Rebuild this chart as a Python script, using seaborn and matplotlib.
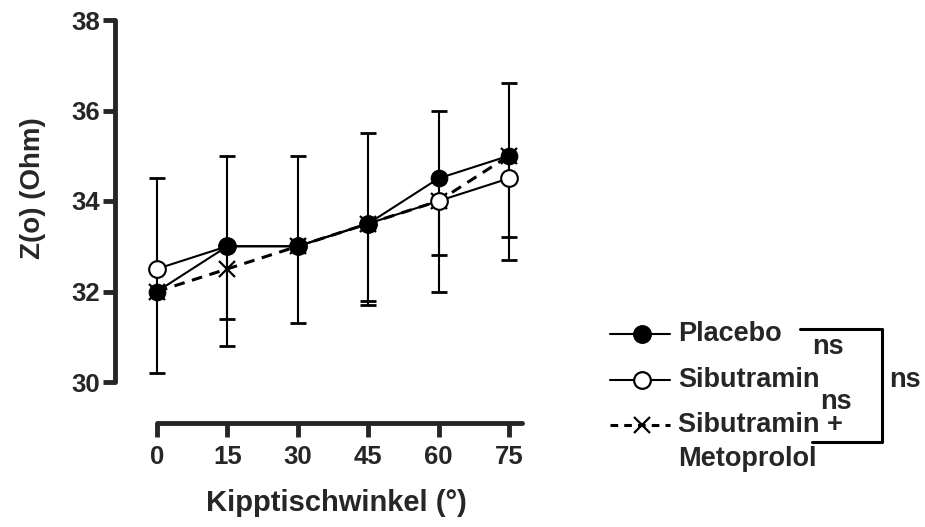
import numpy as np
import pandas as pd
import matplotlib
matplotlib.use("Agg")
import matplotlib.pyplot as plt
import seaborn as sns
from matplotlib.lines import Line2D

angles = [0, 15, 30, 45, 60, 75]
placebo = [32.0, 33.0, 33.0, 33.5, 34.5, 35.0]
sibutramin = [32.5, 33.0, 33.0, 33.5, 34.0, 34.5]
sib_meto = [32.0, 32.5, 33.0, 33.5, 34.0, 35.0]

# error bar ends (NaN = not drawn)
placebo_upper = [34.5, 35.0, 35.0, 35.5, 36.0, 36.6]
placebo_lower = [30.2, 31.4, 31.3, 31.8, 32.8, 33.2]
sib_lower = [np.nan, 30.8, np.nan, 31.7, 32.0, 32.7]

yticks = [30, 32, 34, 36, 38]
xlabel = "Kipptischwinkel (°)"
ylabel = "Z(o) (Ohm)"
labels = ["Placebo", "Sibutramin", "Sibutramin +", "Metoprolol"]

sns.set_style("ticks")
plt.rcParams['font.family'] = ['Liberation Sans', 'DejaVu Sans']
plt.rcParams['font.weight'] = 'bold'

W, H = 925, 527
fig = plt.figure(figsize=(W / 100, H / 100), dpi=100)
ax = fig.add_axes([115 / W, 1 - 382 / H, (522 - 115) / W, (382 - 20) / H])

px_per_unit = (509 - 157) / 75
xmin = 0 - (157 - 115) / px_per_unit
xmax = 75 + (522 - 509) / px_per_unit

df = pd.DataFrame({
    "angle": angles * 3,
    "z": placebo + sibutramin + sib_meto,
    "group": ["Placebo"] * 6 + ["Sibutramin"] * 6 + ["SibMeto"] * 6,
})

lw = 1.5


def draw_err(xs, mids, ends):
    for x, m, e in zip(xs, mids, ends):
        if np.isnan(e):
            continue
        ax.plot([x, x], [m, e], color='black', lw=lw, zorder=2, solid_capstyle='butt')
        ax.plot([x], [e], marker='_', markersize=12, markeredgewidth=2.0,
                color='black', zorder=2)


draw_err(angles, placebo, placebo_upper)
draw_err(angles, placebo, placebo_lower)
draw_err(angles, sibutramin, sib_lower)

sns.lineplot(data=df[df.group == "SibMeto"], x="angle", y="z", ax=ax, color='black',
             lw=2.2, linestyle=(0, (3.5, 2.5)), marker='x', markersize=11,
             markeredgewidth=1.6, markeredgecolor='black', zorder=3, legend=False)
sns.lineplot(data=df[df.group == "Sibutramin"], x="angle", y="z", ax=ax, color='black',
             lw=lw, marker='o', markersize=12, markerfacecolor='white',
             markeredgecolor='black', markeredgewidth=1.5, zorder=4, legend=False)
sns.lineplot(data=df[df.group == "Placebo"], x="angle", y="z", ax=ax, color='black',
             lw=lw, marker='o', markersize=12, markerfacecolor='black',
             markeredgecolor='black', zorder=5, legend=False)

for s in ['top', 'right']:
    ax.spines[s].set_visible(False)
ax.spines['left'].set_linewidth(3.5)
ax.spines['bottom'].set_linewidth(3.5)
ax.spines['bottom'].set_position(('outward', 41 * 0.72))
ax.spines['left'].set_capstyle('round')
ax.spines['bottom'].set_capstyle('round')

ax.set_xlim(xmin, xmax)
ax.set_ylim(30, 38)
ax.spines['bottom'].set_bounds(0, xmax)
ax.spines['left'].set_bounds(30, 38)
ax.set_xticks(angles)
ax.set_yticks(yticks)
ax.set_xticklabels([str(a) for a in angles], fontsize=18.5, fontweight='bold')
ax.set_yticklabels([str(t) for t in yticks], fontsize=18.5, fontweight='bold')
ax.set_xlabel(xlabel, fontsize=21, fontweight='bold')
ax.set_ylabel(ylabel, fontsize=20, fontweight='bold')
ax.xaxis.set_label_coords(336 / W, 1 - 489 / H, transform=fig.transFigure)
ax.yaxis.set_label_coords(46 / W, 1 - 188 / H, transform=fig.transFigure)
ax.tick_params(axis='y', length=9, width=3.5, pad=1.5)
ax.tick_params(axis='x', length=10, width=3.5, pad=5.5)


def fx(x):
    return x / W


def fy(y):
    return 1 - y / H


handles_y = [334, 380, 425]
styles = [
    dict(marker='o', mfc='black', mec='black', ls='-', ms=12),
    dict(marker='o', mfc='white', mec='black', ls='-', ms=12),
    dict(marker='x', mfc='black', mec='black', ls=(0, (2.5, 2.0)), ms=11),
]
for yy, st in zip(handles_y, styles):
    ln = Line2D([fx(610), fx(670)], [fy(yy), fy(yy)], transform=fig.transFigure,
                color='black', lw=lw if st['ls'] == '-' else 2.2, ls=st['ls'])
    fig.add_artist(ln)
    mk = Line2D([fx(642)], [fy(yy)], transform=fig.transFigure, marker=st['marker'],
                markersize=st['ms'], markerfacecolor=st['mfc'], markeredgecolor=st['mec'],
                markeredgewidth=1.6, ls='none')
    fig.add_artist(mk)

for txt, yy in zip(labels, [334, 380, 425, 459]):
    fig.text(fx(678), fy(yy), txt, fontsize=19.5, fontweight='bold', va='center', ha='left')

br = Line2D([fx(800), fx(882), fx(882), fx(812)], [fy(329), fy(329), fy(442), fy(442)],
            transform=fig.transFigure, color='black', lw=2.2)
fig.add_artist(br)
fig.text(fx(828), fy(347), "ns", fontsize=19.5, fontweight='bold', ha='center', va='center')
fig.text(fx(836), fy(402), "ns", fontsize=19.5, fontweight='bold', ha='center', va='center')
fig.text(fx(905), fy(380), "ns", fontsize=19.5, fontweight='bold', ha='center', va='center')

fig.savefig("out.png", dpi=100)
